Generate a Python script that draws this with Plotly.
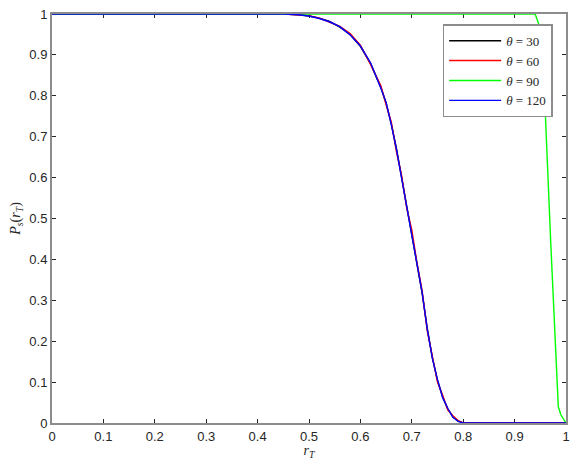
import plotly.graph_objects as go

# r_T sample points
r_T = [0, 0.1, 0.2, 0.3, 0.4, 0.45, 0.48, 0.5, 0.52, 0.54, 0.56, 0.58, 0.6, 0.62, 0.64,
       0.65, 0.66, 0.67, 0.68, 0.69, 0.7, 0.71, 0.72, 0.73, 0.74, 0.75, 0.76, 0.77, 0.78,
       0.79, 0.8, 0.85, 0.9, 0.93, 0.94, 0.95, 0.96, 0.97, 0.98, 0.985, 0.99, 1.0]

# P_s(r_T) per theta
p_30 = [1, 1, 1, 1, 1, 1, 0.998, 0.995, 0.99, 0.982, 0.968, 0.95, 0.921, 0.878, 0.82,
        0.782, 0.732, 0.672, 0.602, 0.532, 0.468, 0.398, 0.318, 0.232, 0.16, 0.104, 0.064,
        0.034, 0.015, 0.005, 0, 0, 0, 0, 0, 0, 0, 0, 0, 0, 0, 0]
p_60 = [1, 1, 1, 1, 1, 1, 0.998, 0.996, 0.99, 0.98, 0.97, 0.952, 0.924, 0.876, 0.824,
        0.778, 0.736, 0.664, 0.606, 0.526, 0.472, 0.392, 0.324, 0.226, 0.164, 0.1, 0.068,
        0.032, 0.018, 0.006, 0, 0, 0, 0, 0, 0, 0, 0, 0, 0, 0, 0]
p_90 = [1, 1, 1, 1, 1, 1, 1, 1, 1, 1, 1, 1, 1, 1, 1,
        1, 1, 1, 1, 1, 1, 1, 1, 1, 1, 1, 1, 1, 1,
        1, 1, 1, 1, 1, 1, 0.965, 0.75, 0.45, 0.15, 0.04, 0.02, 0]
p_120 = [1, 1, 1, 1, 1, 1, 0.998, 0.995, 0.989, 0.981, 0.969, 0.949, 0.922, 0.88, 0.818,
         0.784, 0.73, 0.67, 0.6, 0.53, 0.47, 0.4, 0.32, 0.23, 0.158, 0.106, 0.062,
         0.036, 0.014, 0.004, 0, 0, 0, 0, 0, 0, 0, 0, 0, 0, 0, 0]

tick_vals = [0, 0.1, 0.2, 0.3, 0.4, 0.5, 0.6, 0.7, 0.8, 0.9, 1]
tick_text = ["0", "0.1", "0.2", "0.3", "0.4", "0.5", "0.6", "0.7", "0.8", "0.9", "1"]

series = [
    ("30", p_30, "#000000"),
    ("60", p_60, "#ff0000"),
    ("90", p_90, "#00ff00"),
    ("120", p_120, "#0000ff"),
]

fig = go.Figure()
for theta, vals, col in series:
    fig.add_trace(go.Scatter(x=r_T, y=vals, mode="lines", name=f"<i>θ</i> = {theta}",
                             line=dict(color=col, width=1.4)))

axis_style = dict(
    showline=True, linecolor="#8c8c8c", linewidth=2, mirror="ticks",
    ticks="inside", ticklen=4, tickcolor="#262626", tickwidth=1,
    showgrid=False, zeroline=False, layer="below traces", automargin=False,
    tickvals=tick_vals, ticktext=tick_text, tickangle=0,
    tickfont=dict(family="Liberation Sans, Arial", size=13, color="#262626"),
)

fig.update_xaxes(range=[0, 1],
                 title=dict(text="<i>r<sub>T</sub></i>", standoff=4,
                            font=dict(family="Liberation Serif", size=14, color="#262626")),
                 **axis_style)
fig.update_yaxes(range=[0, 1],
                 title=dict(text="<i>P<sub>s</sub></i>(<i>r<sub>T</sub></i>)", standoff=12,
                            font=dict(family="Liberation Serif", size=14, color="#262626")),
                 **axis_style)

# the page puts an 8px margin round the figure, so keep it inside the window
fig.update_layout(
    width=564, height=452,
    margin=dict(l=44, r=6, t=6, b=37),
    plot_bgcolor="white", paper_bgcolor="white",
    legend=dict(x=0.76, y=0.975, xanchor="left", yanchor="top",
                bgcolor="white", bordercolor="#8c8c8c", borderwidth=1.5,
                font=dict(family="Liberation Serif", size=13, color="#262626"),
                tracegroupgap=0, itemwidth=52),
    showlegend=True,
)

fig.write_html("out.html")
